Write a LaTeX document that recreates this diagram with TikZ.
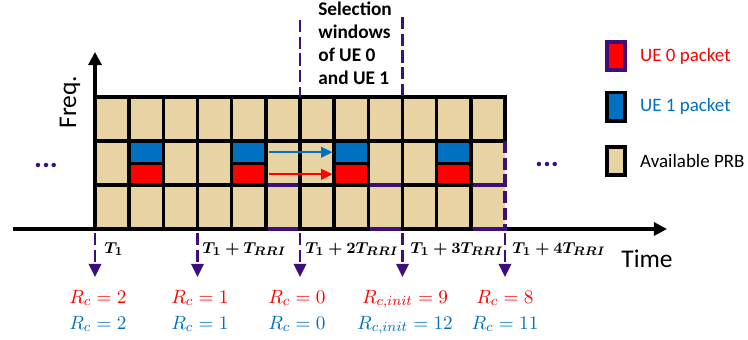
\documentclass[tikz,border=0pt]{standalone}
\usepackage{amsmath,amssymb,bm}
\usepackage{fontspec}
\setmainfont{Carlito}
\usepackage{tikz}
\usetikzlibrary{arrows.meta,calc,positioning}

\definecolor{prbtan}{RGB}{232,212,163}
\definecolor{ueblue}{RGB}{0,112,192}
\definecolor{uered}{RGB}{255,0,0}
\definecolor{winpurple}{RGB}{60,15,125}

\tikzset{
  gridline/.style={line width=2pt, line cap=rect},
  winline/.style={winpurple, line width=1.4pt, dash pattern=on 7pt off 2.5pt},
  pkt/.style={draw=black, line width=2pt, minimum width=0.683cm, inner sep=0pt},
  ueone/.style={pkt, fill=ueblue, minimum height=0.45cm},
  uezero/.style={pkt, fill=uered, minimum height=0.43cm},
  legbox/.style={line width=2pt, minimum width=0.37cm, minimum height=0.57cm, inner sep=0pt},
  leglabel/.style={font=\fontsize{10.8}{13}\selectfont, anchor=west},
  tlabel/.style={font=\fontsize{9.5}{11}\selectfont, anchor=base west, inner sep=0pt},
  rclabel/.style={font=\fontsize{11}{13}\selectfont, anchor=base, inner sep=0pt},
  axislabel/.style={font=\fontsize{14.5}{16}\selectfont, anchor=base, inner sep=0pt},
  dots/.style={text=winpurple, font=\bfseries\fontsize{17}{17}\selectfont, anchor=base, inner sep=0pt},
}

\begin{document}
\begin{tikzpicture}[x=0.02cm, y=-0.02cm]
\useasboundingbox (0,0) rectangle (748,339);
% axes, behind the PRB grid
\coordinate (xstart) at (13,229);
\coordinate (xend) at (667,229);
\coordinate (origin) at (95,229);
\coordinate (yend) at (95,52);
\draw[line width=1.8pt, -{Triangle[length=7.5pt,width=7.5pt]}] (xstart) -- (xend);
\draw[line width=1.8pt, -{Triangle[length=7.5pt,width=7.5pt]}] (origin) -- (yend);
\node[axislabel, rotate=90] (freq) at (76,102) {Freq.};
\node[axislabel] (time) at (647,267) {Time};

% PRB grid
\fill[prbtan] (95,97) rectangle (505,229);
\foreach \i in {5,8,11} {
  \draw[gridline, winpurple] ({95+34.17*\i},185) -- ({95+34.17*(\i+1)},185);
  \draw[gridline, winpurple] ({95+34.17*\i},229) -- ({95+34.17*(\i+1)},229);
}
\foreach \i in {0,1,2,3,4,6,7,9,10} {
  \draw[gridline] ({95+34.17*\i},185) -- ({95+34.17*(\i+1)},185);
  \draw[gridline] ({95+34.17*\i},229) -- ({95+34.17*(\i+1)},229);
}
\draw[gridline] (95,97) -- (505,97) (95,141) -- (505,141);
\foreach \i in {0,...,11} \draw[gridline] ({95+34.17*\i},97) -- ({95+34.17*\i},229);
\draw[gridline] (505,97) -- (505,141);
\draw[winline, line width=1.8pt] (505,141) -- (505,229);

% packets of UE 1 (blue) and UE 0 (red)
\foreach \i in {1,4,7,10} {
  \node[ueone] (b\i) at ({95+34.17*(\i+0.5)},152.25) {};
  \node[uezero] (r\i) at ({95+34.17*(\i+0.5)},174.25) {};
}
\draw[ueblue, line width=1.3pt, -{Triangle[length=6.5pt,width=6pt]}, shorten <=1pt] (b4.east) -- (b7.west);
\draw[uered, line width=1.3pt, -{Triangle[length=6.5pt,width=6pt]}, shorten <=1pt] (r4.east) -- (r7.west);

\node[dots] (dotsl) at (46,167.5) {...};
\node[dots] (dotsr) at (547,166) {...};

% selection windows
\draw[winline] (300,20) -- (300,97);
\draw[winline] (402.5,17) -- (402.5,97);
\node[align=left, anchor=north west, inner sep=0pt, font=\bfseries\fontsize{11}{13}\selectfont] (selwin) at (318,2) {Selection\\windows\\of UE 0\\and UE 1};

% reselection instants
\foreach \x [count=\k from 0] in {95,197.5,300,402.5,505} {
  \coordinate (mk\k) at (\x,233);
  \coordinate (mkend\k) at (\x,277);
  \draw[winline, -{Triangle[length=7.5pt,width=7pt]}] (mk\k) -- (mkend\k);
}
\node[tlabel] (tm0) at (104,253) {$\bm{T_1}$};
\node[tlabel] (tm1) at (202,253) {$\bm{T_1+T_{RRI}}$};
\node[tlabel] (tm2) at (305,253) {$\bm{T_1+2T_{RRI}}$};
\node[tlabel] (tm3) at (410,253) {$\bm{T_1+3T_{RRI}}$};
\node[tlabel] (tm4) at (512,253) {$\bm{T_1+4T_{RRI}}$};

% reselection counters
\foreach \x/\rz/\ro [count=\k from 0] in {98/{R_c=2}/{R_c=2}, 200/{R_c=1}/{R_c=1}, 297/{R_c=0}/{R_c=0}, 405/{R_{c,init}=9}/{R_{c,init}=12}, 505/{R_c=8}/{R_c=11}} {
  \node[rclabel, text=uered] (rz\k) at (\x,303) {$\rz$};
  \node[rclabel, text=ueblue] (ro\k) at (\x,329) {$\ro$};
}

% legend
\node[legbox, draw=winpurple, fill=uered] (leg0) at (616,56) {};
\node[legbox, draw=black, fill=ueblue] (leg1) at (616,106.5) {};
\node[legbox, draw=black, fill=prbtan] (leg2) at (616,161) {};
\node[leglabel, text=uered, right=0.14cm of leg0] (legtext0) {UE 0 packet};
\node[leglabel, text=ueblue, right=0.14cm of leg1] (legtext1) {UE 1 packet};
\node[leglabel, right=0.14cm of leg2] (legtext2) {Available PRB};
\end{tikzpicture}
\end{document}
